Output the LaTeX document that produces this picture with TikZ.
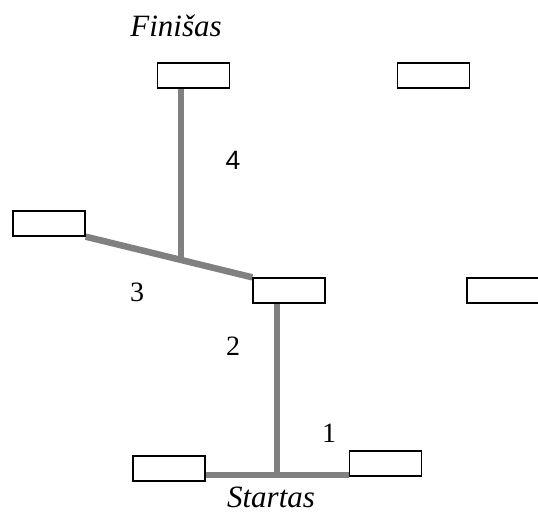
\documentclass[tikz,border=0pt]{standalone}
\usepackage{fontspec}
\setmainfont{Liberation Serif}
\newfontfamily\digitsans{Liberation Sans}
\begin{document}
\begin{tikzpicture}[x=1pt,y=-1pt,
  stand/.style={draw=black,line width=1.3pt,fill=white,minimum width=72pt,minimum height=25pt,inner sep=0pt},
  track/.style={draw=gray,line width=6.5pt,line cap=butt},
  num/.style={anchor=base,inner sep=0pt,font=\fontsize{28}{30}\selectfont},
  place/.style={anchor=base,inner sep=0pt,font=\fontsize{31}{34}\selectfont\itshape}]
  \useasboundingbox (0,0) rectangle (538,515);

  % stands
  \node[stand] (A) at (193.5,75.5) {};
  \node[stand] (B) at (433.5,75.5) {};
  \node[stand] (C) at (49,223.5) {};
  \node[stand] (D) at (289,290.5) {};
  \node[stand] (E) at (503,290.5) {};
  \node[stand] (F) at (169,468.5) {};
  \node[stand] (G) at (385.5,463.5) {};

  % junctions on the route
  \coordinate (J4) at (181,260);
  \coordinate (J2) at (277,475);

  % route
  \draw[track] (C.south east) -- (D.north west);
  \draw[track] (A.south -| J4) -- (J4);
  \draw[track] (D.south -| J2) -- (J2);
  \draw[track] (F.east |- J2) -- (G.west |- J2);

  % redraw stands above the route
  \foreach \s in {A,C,D,F,G}{\node[stand] at (\s) {};}

  % segment numbers
  \node[anchor=base,inner sep=0pt,font=\fontsize{26.5}{30}\selectfont\digitsans] (n4) at (233,169) {4};
  \node[num] (n3) at (137,301) {3};
  \node[num] (n2) at (233,355) {2};
  \node[num] (n1) at (329,442) {1};

  % start and finish
  \node[place] (fin) at (176,36) {Finišas};
  \node[place] (start) at (271,507) {Startas};
\end{tikzpicture}
\end{document}
